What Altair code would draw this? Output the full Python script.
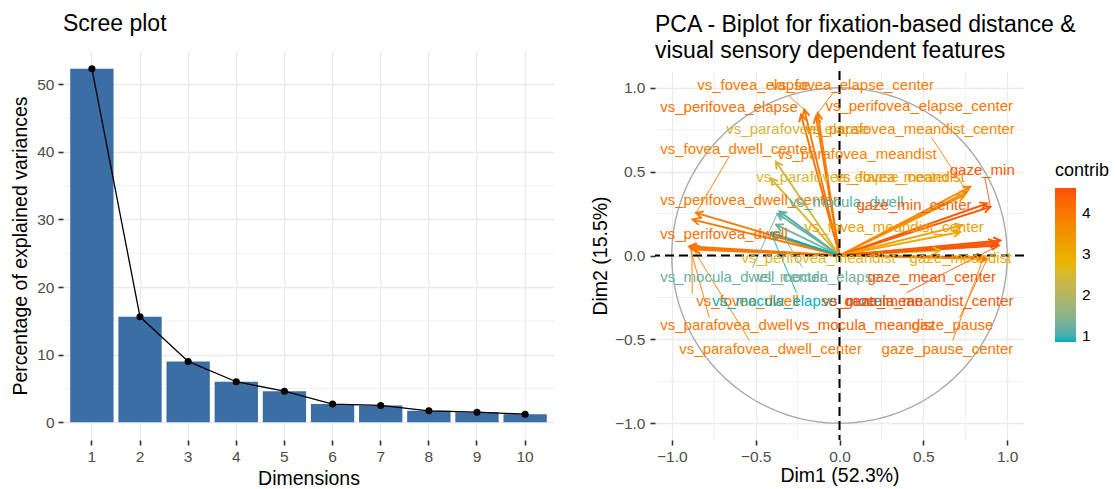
import altair as alt
import pandas as pd
import numpy as np

FONT = "Liberation Sans"

# ---------------- Scree plot data ----------------
dims = [1, 2, 3, 4, 5, 6, 7, 8, 9, 10]
explained = [52.3, 15.6, 9.0, 6.0, 4.6, 2.7, 2.5, 1.7, 1.5, 1.2]
scree_major = [0, 10, 20, 30, 40, 50]
scree_minor = [5, 15, 25, 35, 45]

# ---------------- Biplot data ----------------
var_names = [
    "vs_fovea_elapse", "vs_fovea_elapse_center", "vs_perifovea_elapse",
    "vs_perifovea_elapse_center", "vs_parafovea_elapse", "vs_parafovea_meandist_center",
    "vs_fovea_dwell_center", "vs_parafovea_meandist", "gaze_min",
    "vs_parafovea_elapse_center", "vs_fovea_meandist", "vs_perifovea_dwell_center",
    "vs_mocula_dwell", "gaze_min_center", "vs_perifovea_dwell",
    "vs_fovea_meandist_center", "vs_perifovea_meandist", "gaze_meandist",
    "vs_mocula_dwell_center", "vs_mocula_elapse", "gaze_mean_center",
    "vs_fovea_dwell", "vs_mocula_elapse_center", "vs_mocula_meandist_center",
    "gaze_mean", "vs_parafovea_dwell", "vs_mocula_meandist",
    "gaze_pause", "vs_parafovea_dwell_center", "gaze_pause_center",
]
dim1 = [-0.21, -0.13, -0.23, -0.14, -0.38, 0.76, -0.855, 0.78, 0.90, -0.41,
        0.745, -0.875, -0.358, 0.88, -0.895, 0.73, 0.60, 0.72, -0.37, -0.378,
        0.94, -0.88, -0.408, 0.95, 0.96, -0.89, 0.93, 0.88, -0.87, 0.86]
dim2 = [0.87, 0.85, 0.84, 0.83, 0.56, 0.38, 0.254, 0.41, 0.29, 0.46,
        0.36, 0.214, 0.263, 0.31, 0.054, 0.18, 0.03, 0.14, 0.25, 0.184,
        0.07, 0.04, 0.134, 0.06, 0.09, 0.045, 0.08, -0.02, 0.035, -0.01]
contrib = [4.0, 3.9, 4.1, 4.0, 2.4, 3.7, 3.9, 3.8, 4.5, 2.5,
           3.5, 4.0, 1.1, 4.4, 4.1, 3.2, 2.6, 3.0, 1.2, 1.3,
           4.5, 4.0, 0.85, 4.5, 4.6, 4.0, 4.4, 4.1, 3.9, 4.0]
label_x = [-0.848, -0.406, -1.069, -0.084, -0.675, -0.203, -1.069, -0.370, 0.657, -0.496,
           -0.024, -1.069, -0.299, 0.101, -1.069, -0.209, -0.585, 0.418, -1.069, -0.496,
           0.167, -0.854, -0.758, -0.101, 0.03, -1.069, -0.269, 0.430, -0.955, 0.251]
label_y = [1.015, 1.015, 0.884, 0.890, 0.752, 0.752, 0.633, 0.603, 0.507, 0.466,
           0.466, 0.328, 0.316, 0.304, 0.131, 0.167, -0.012, -0.012, -0.131, -0.131,
           -0.131, -0.269, -0.269, -0.269, -0.269, -0.412, -0.412, -0.412, -0.555, -0.555]
lead_x = [-0.299, -0.03, None, None, None, 0.549, -0.657, None, 0.866, None,
          None, None, None, None, None, None, None, None, -0.519, -0.221,
          None, -0.878, -0.257, 0.40, None, -0.776, None, 0.716, -0.537, 0.675]
lead_y = [0.949, 0.979, None, None, None, 0.704, 0.591, None, 0.466, None,
          None, None, None, None, None, None, None, None, -0.072, -0.072,
          None, -0.227, -0.221, -0.221, None, -0.370, None, -0.370, -0.507, -0.507]

bip_major = [-1.0, -0.5, 0.0, 0.5, 1.0]
bip_minor = [-0.75, -0.25, 0.25, 0.75]

# ---------------- Frames ----------------
scree_df = pd.DataFrame({"dim": dims, "pct": explained})
scree_minor_df = pd.DataFrame({"pct": scree_minor})

var_df = pd.DataFrame({
    "name": var_names, "dim1": dim1, "dim2": dim2, "contrib": contrib,
    "label_x": label_x, "label_y": label_y, "lead_x": lead_x, "lead_y": lead_y,
})
var_df["o"] = 0.0
var_df["ang"] = (np.degrees(np.arctan2(var_df["dim1"], var_df["dim2"])) + 360) % 360
lead_df = var_df.dropna(subset=["lead_x"])

theta = np.linspace(0, 2 * np.pi, 241)
circle_df = pd.DataFrame({"dim1": np.cos(theta), "dim2": np.sin(theta), "i": np.arange(len(theta))})
minor_df = pd.DataFrame({"m": bip_minor})
zero_df = pd.DataFrame({"z": [0.0]})

# ---------------- Scree chart ----------------
TICKS = dict(tickColor="#333333", tickWidth=1.6, tickSize=5, domain=False,
             labelColor="#4D4D4D", labelFontSize=15.5, titleFontSize=19.5,
             titleFontWeight="normal", titleColor="#000000",
             labelFont=FONT, titleFont=FONT, gridColor="#EBEBEB", gridWidth=1.3)

xs = alt.X("dim:O", scale=alt.Scale(paddingInner=0.1, paddingOuter=0.15),
           axis=alt.Axis(title=["Dimensions", " "], titleLineHeight=17, labelAngle=0, grid=True,
                         bandPosition=0.5, labelPadding=4, titlePadding=5, **TICKS))
ys_axis = alt.Axis(title="Percentage of explained variances", values=scree_major, grid=True,
                   labelPadding=4, titlePadding=6, **TICKS)
ys_scale = alt.Scale(domain=[-2.615, 54.915], nice=False, zero=False)

scree_minor_layer = alt.Chart(scree_minor_df).mark_rule(color="#EBEBEB", strokeWidth=0.7).encode(
    y=alt.Y("pct:Q", scale=ys_scale, axis=ys_axis))
bars = alt.Chart(scree_df).mark_bar(color="#3C6EA6").encode(
    x=xs, y=alt.Y("pct:Q", scale=ys_scale, axis=ys_axis))
line = alt.Chart(scree_df).mark_line(color="black", strokeWidth=1.3).encode(
    x=xs, y=alt.Y("pct:Q", scale=ys_scale, axis=ys_axis))
pts = alt.Chart(scree_df).mark_point(color="black", filled=True, size=50, opacity=1).encode(
    x=xs, y=alt.Y("pct:Q", scale=ys_scale, axis=ys_axis))

scree = alt.layer(scree_minor_layer, bars, line, pts).properties(
    width=491, height=389,
    title=alt.Title("Scree plot", anchor="start", frame="group", fontSize=23, fontWeight="normal",
                    font=FONT, color="#000000", offset=15),
)

# ---------------- Biplot ----------------
bx_scale = alt.Scale(domain=[-1.1, 1.1], nice=False, zero=False)
by_scale = alt.Scale(domain=[-1.1, 1.1], nice=False, zero=False)
bx_axis = alt.Axis(title="Dim1 (52.3%)", values=bip_major, format=".1f", grid=True,
                   labelPadding=4, titlePadding=2, **TICKS)
by_axis = alt.Axis(title="Dim2 (15.5%)", values=bip_major, format=".1f", grid=True,
                   labelPadding=5, titlePadding=4, **TICKS)


def BX(f):
    return alt.X(f, type="quantitative", scale=bx_scale, axis=bx_axis)


def BY(f):
    return alt.Y(f, type="quantitative", scale=by_scale, axis=by_axis)


color_scale = alt.Scale(domain=[min(contrib), max(contrib)],
                        range=["#00AFBB", "#E7B800", "#FC4E07"], interpolate="lab")
color_plain = alt.Color("contrib:Q", scale=color_scale, legend=None)
color_leg = alt.Color(
    "contrib:Q", scale=color_scale,
    legend=alt.Legend(type="gradient", title="contrib", orient="none", legendX=400, legendY=91,
                      gradientLength=154, gradientThickness=21, values=[1, 2, 3, 4],
                      labelFontSize=15.5, labelFont=FONT, labelColor="#000000",
                      titleFontSize=18, titleFont=FONT, titleFontWeight="normal",
                      titleColor="#000000", titlePadding=8, direction="vertical",
                      gradientStrokeWidth=0, labelOffset=6),
)

minor_v = alt.Chart(minor_df).mark_rule(color="#EBEBEB", strokeWidth=0.7).encode(x=BX("m"))
minor_h = alt.Chart(minor_df).mark_rule(color="#EBEBEB", strokeWidth=0.7).encode(y=BY("m"))

circle = alt.Chart(circle_df).mark_line(color="#A9A9A9", strokeWidth=1.4).encode(
    x=BX("dim1"), y=BY("dim2"), order="i:Q")

arrows = alt.Chart(var_df).mark_rule(strokeWidth=1.9).encode(
    x=BX("o"), x2=alt.X2("dim1"), y=BY("o"), y2=alt.Y2("dim2"), color=color_plain)

heads = alt.Chart(var_df).mark_point(
    shape="M-0.5,0.95L0,0L0.5,0.95", filled=False, strokeWidth=1.9, size=220, opacity=1
).encode(x=BX("dim1"), y=BY("dim2"), angle=alt.Angle("ang:Q", scale=None), color=color_plain)

leaders = alt.Chart(lead_df).mark_rule(strokeWidth=0.9).encode(
    x=BX("lead_x"), x2=alt.X2("dim1"), y=BY("lead_y"), y2=alt.Y2("dim2"), color=color_plain)

zero_v = alt.Chart(zero_df).mark_rule(color="black", strokeWidth=2, strokeDash=[9, 5]).encode(x=BX("z"))
zero_h = alt.Chart(zero_df).mark_rule(color="black", strokeWidth=2, strokeDash=[9, 5]).encode(y=BY("z"))

labels = alt.Chart(var_df).mark_text(align="left", baseline="middle", fontSize=15, font=FONT).encode(
    x=BX("label_x"), y=BY("label_y"), text="name:N", color=color_leg)

biplot = alt.layer(minor_v, minor_h, circle, arrows, heads, leaders, zero_v, zero_h, labels).resolve_scale(
    color="independent"
).resolve_legend(color="independent").properties(
    width=369, height=369,
    title=alt.Title(["PCA - Biplot for fixation-based distance &",
                     "\u2004visual sensory dependent features"],
                    anchor="start", frame="group", fontSize=23, fontWeight="normal", font=FONT,
                    color="#000000", offset=7, lineHeight=26),
)

chart = alt.hconcat(scree, biplot, spacing=35, center=True).resolve_legend(
    color="independent"
).properties(
    padding={"left": 10, "top": 13, "right": 0, "bottom": 0}
).configure_view(stroke=None)

chart.save("out.html", embed_options={"renderer": "svg", "actions": False})
